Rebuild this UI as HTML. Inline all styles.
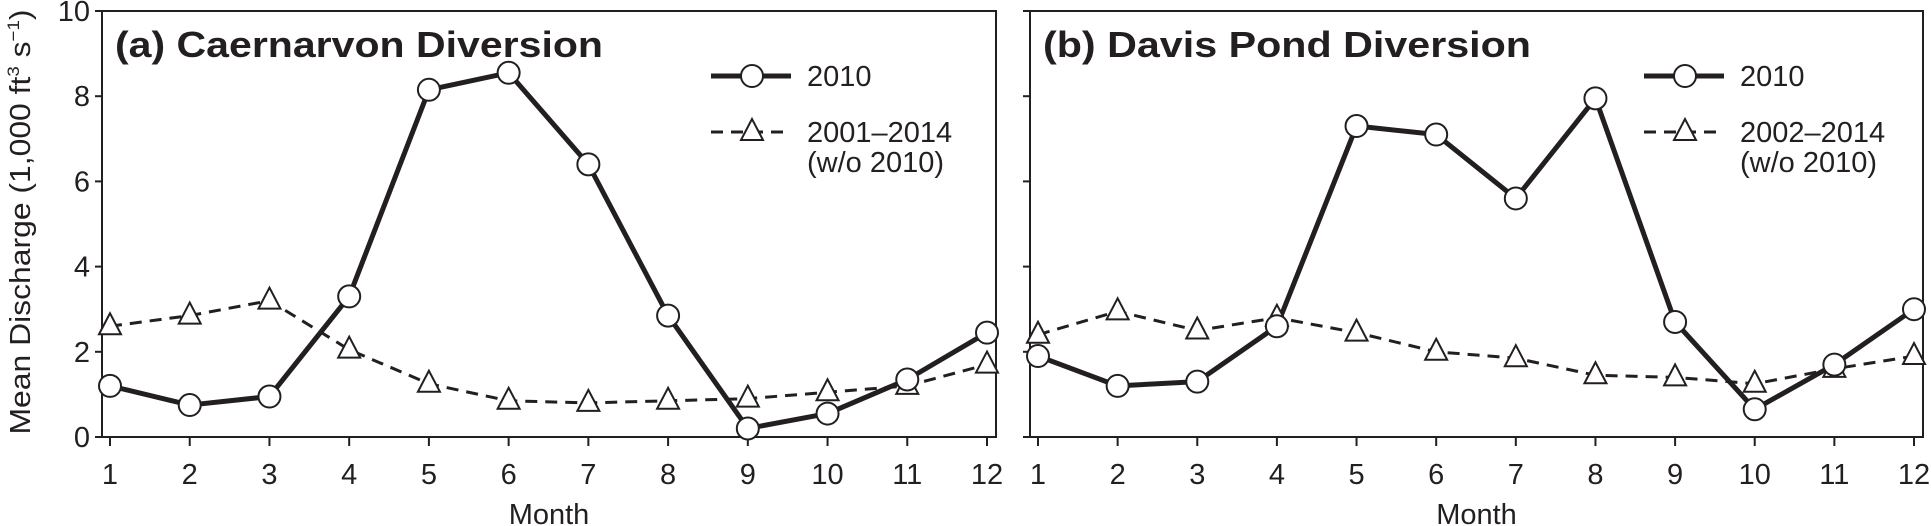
<!DOCTYPE html>
<html><head><meta charset="utf-8"><style>
html,body{margin:0;padding:0;background:#fff;}
svg{display:block;font-family:"Liberation Sans",sans-serif;}
</style></head><body>
<svg id="chart" width="1931" height="526" viewBox="0 0 1931 526" xmlns="http://www.w3.org/2000/svg">
<text transform="translate(30,222) rotate(-90)" text-anchor="middle" font-size="29" fill="#231f20" textLength="425" lengthAdjust="spacingAndGlyphs">Mean Discharge (1,000 ft<tspan font-size="17" dy="-11">3</tspan><tspan dy="11"> s</tspan><tspan font-size="17" dy="-11">−1</tspan><tspan dy="11">)</tspan></text>
</svg>
<script>
const months=[1,2,3,4,5,6,7,8,9,10,11,12];
const yTicks=[0,2,4,6,8,10];
const caer2010=[1.2,0.75,0.95,3.3,8.15,8.55,6.4,2.85,0.2,0.55,1.35,2.45];
const caerAvg=[2.6,2.85,3.2,2.05,1.25,0.85,0.8,0.85,0.9,1.05,1.2,1.7];
const davis2010=[1.9,1.2,1.3,2.6,7.3,7.1,5.6,7.95,2.7,0.65,1.7,3.0];
const davisAvg=[2.4,2.95,2.5,2.8,2.45,2.0,1.85,1.45,1.4,1.25,1.6,1.9];
const panels=[
 {id:'a',title:'(a) Caernarvon Diversion',avgLabel:'2001–2014',left:102,right:996,m1:110,m12:987,s1:caer2010,s2:caerAvg,labels:true,legX:711},
 {id:'b',title:'(b) Davis Pond Diversion',avgLabel:'2002–2014',left:1030,right:1923,m1:1038,m12:1914,s1:davis2010,s2:davisAvg,labels:false,legX:1644}
];
const svg=document.getElementById('chart');
const NS='http://www.w3.org/2000/svg';
const top0=11,bot0=437;
function el(tag,attrs,parent){const e=document.createElementNS(NS,tag);for(const k in attrs)e.setAttribute(k,attrs[k]);(parent||svg).appendChild(e);return e;}
function yS(v){return bot0-(v/10)*(bot0-top0);}
function circ(g,x,y){el('circle',{cx:x,cy:y,r:11,fill:'#fff',stroke:'#231f20','stroke-width':2},g);}
function tri(g,x,y){el('polygon',{points:`${x},${y-13} ${x-11},${y+8} ${x+11},${y+8}`,fill:'#fff',stroke:'#231f20','stroke-width':2},g);}
panels.forEach(p=>{
 const xS=m=>p.m1+(m-1)*(p.m12-p.m1)/11;
 const g=el('g',{});
 
 
 const frame=el('rect',{x:p.left,y:top0,width:p.right-p.left,height:bot0-top0,fill:'none',stroke:'#231f20','stroke-width':2},g);
 
 
 yTicks.forEach(v=>{
  el('line',{x1:p.left-7,x2:p.left,y1:yS(v),y2:yS(v),stroke:'#231f20','stroke-width':2},g);
  if(p.labels){const t=el('text',{x:p.left-12,y:yS(v)+10,'text-anchor':'end','font-size':29,fill:'#231f20'},g);t.textContent=v;
   
   }
 });
 months.forEach(m=>{
  el('line',{x1:xS(m),x2:xS(m),y1:bot0,y2:bot0+9,stroke:'#231f20','stroke-width':2},g);
  const t=el('text',{x:xS(m),y:484,'text-anchor':'middle','font-size':29,fill:'#231f20'},g);t.textContent=m;
  
  
 });
 const xt=el('text',{x:(p.left+p.right)/2,y:524,'text-anchor':'middle','font-size':29,fill:'#231f20'},g);xt.textContent='Month';
 
 
 const tt=el('text',{x:p.left+13,y:57,'font-size':36,'font-weight':'bold',fill:'#231f20',textLength:488,lengthAdjust:'spacingAndGlyphs'},g);tt.textContent=p.title;
 
 
 const l2=el('polyline',{points:p.s2.map((v,i)=>xS(months[i])+','+yS(v)).join(' '),fill:'none',stroke:'#231f20','stroke-width':3,'stroke-dasharray':'12,8'},g);
 
 
 const l1=el('polyline',{points:p.s1.map((v,i)=>xS(months[i])+','+yS(v)).join(' '),fill:'none',stroke:'#231f20','stroke-width':5,'stroke-linejoin':'round'},g);
 
 
 p.s2.forEach((v,i)=>tri(g,xS(months[i]),yS(v)));
 p.s1.forEach((v,i)=>circ(g,xS(months[i]),yS(v)));
 const lg=el('g',{},g);
 
 
 el('line',{x1:p.legX,x2:p.legX+80,y1:76,y2:76,stroke:'#231f20','stroke-width':5},lg);
 circ(lg,p.legX+41,76);
 const a=el('text',{x:p.legX+96,y:86,'font-size':29,fill:'#231f20'},lg);a.textContent='2010';
 
 
 el('line',{x1:p.legX,x2:p.legX+80,y1:132,y2:132,stroke:'#231f20','stroke-width':3,'stroke-dasharray':'12,8'},lg);
 tri(lg,p.legX+41,132);
 const b=el('text',{x:p.legX+96,y:142,'font-size':29,fill:'#231f20'},lg);b.textContent=p.avgLabel;
 
 
 const c=el('text',{x:p.legX+96,y:172,'font-size':29,fill:'#231f20'},lg);c.textContent='(w/o 2010)';
 
 
});
</script>
</body></html>
